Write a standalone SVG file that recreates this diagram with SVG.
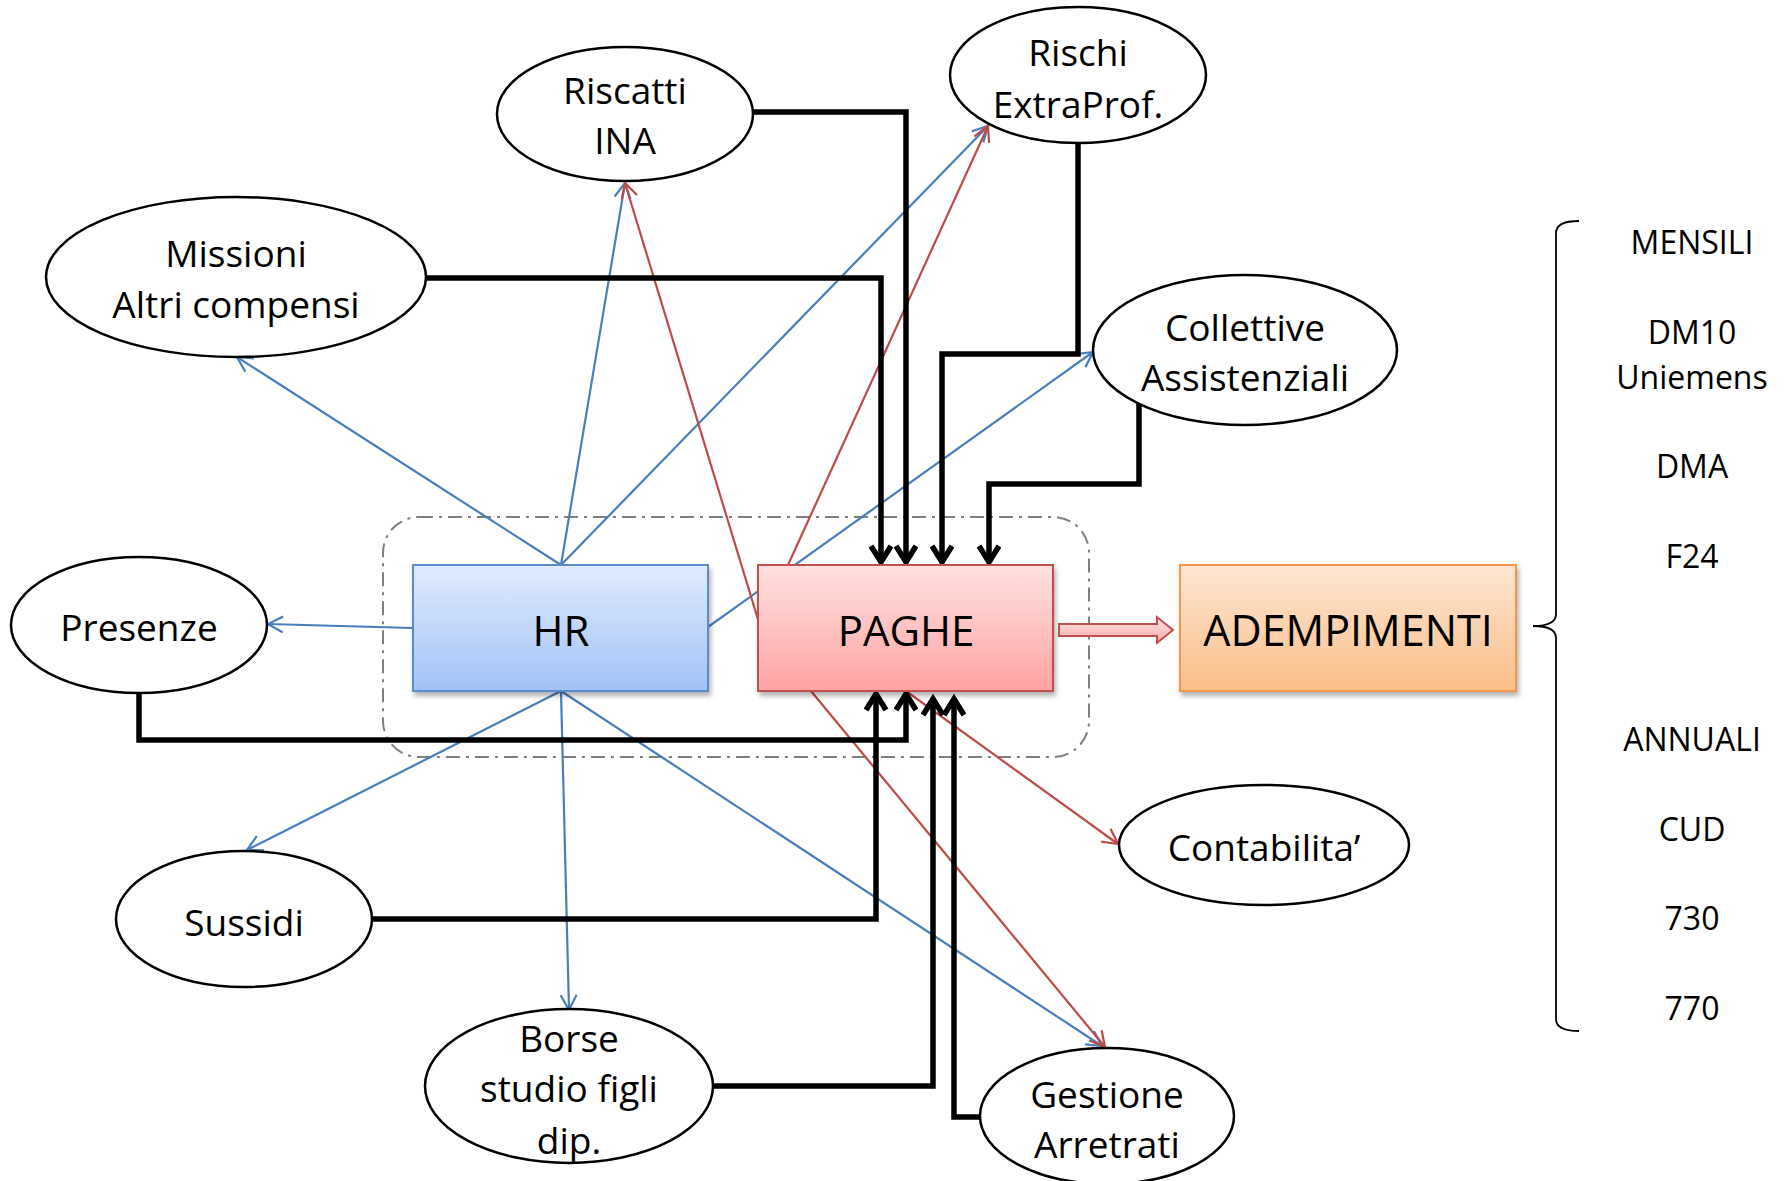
<svg xmlns="http://www.w3.org/2000/svg" width="1791" height="1181" viewBox="0 0 1791 1181">
<style>
.ell{fill:#fff;stroke:#000;stroke-width:2.5}
.t{font-family:"Open Sans","Liberation Sans",sans-serif;font-size:37px;fill:#000;text-anchor:middle;dominant-baseline:central}
.big{font-size:42px}
.adm{font-size:43px}
.side{font-family:"Open Sans","Liberation Sans",sans-serif;font-size:32px;fill:#000;text-anchor:middle;dominant-baseline:central}
.blue{fill:none;stroke:#4a7ebb;stroke-width:2.2;marker-end:url(#ab)}
.red{fill:none;stroke:#be4b48;stroke-width:2.2;marker-end:url(#ar)}
.blk{fill:none;stroke:#000;stroke-width:5.5;stroke-linejoin:miter;marker-end:url(#ak)}
</style>
<defs>
<marker id="ab" markerUnits="userSpaceOnUse" markerWidth="30" markerHeight="30" refX="16" refY="9" orient="auto"><path d="M1,1 L16,9 L1,17" fill="none" stroke="#4a7ebb" stroke-width="2.2"/></marker>
<marker id="ar" markerUnits="userSpaceOnUse" markerWidth="30" markerHeight="30" refX="16" refY="9" orient="auto"><path d="M1,1 L16,9 L1,17" fill="none" stroke="#be4b48" stroke-width="2.2"/></marker>
<marker id="ak" markerUnits="userSpaceOnUse" markerWidth="40" markerHeight="40" refX="20" refY="12" orient="auto"><path d="M3,2 L19,12 L3,22" fill="none" stroke="#000" stroke-width="5.5"/></marker>
<linearGradient id="gb" x1="0" y1="0" x2="0" y2="1"><stop offset="0" stop-color="#e1ebfd"/><stop offset="1" stop-color="#a2c2f7"/></linearGradient>
<linearGradient id="gr" x1="0" y1="0" x2="0" y2="1"><stop offset="0" stop-color="#ffe1e1"/><stop offset="1" stop-color="#ffa3a3"/></linearGradient>
<linearGradient id="go" x1="0" y1="0" x2="0" y2="1"><stop offset="0" stop-color="#fee6d3"/><stop offset="1" stop-color="#fbbf88"/></linearGradient>
<linearGradient id="gp" x1="0" y1="0" x2="0" y2="1"><stop offset="0" stop-color="#ffe6e6"/><stop offset="1" stop-color="#f7a5a5"/></linearGradient>
<filter id="sh" x="-10%" y="-10%" width="130%" height="140%"><feDropShadow dx="2" dy="4" stdDeviation="2.5" flood-color="#000" flood-opacity="0.3"/></filter>
</defs>
<rect width="1791" height="1181" fill="#fff"/>
<rect id="group-frame" x="383" y="517" width="706" height="240" rx="36" fill="none" stroke="#7f7f7f" stroke-width="2" stroke-dasharray="14,6,3,6"/>
<g id="connectors">
<line class="blue" x1="561" y1="565" x2="237" y2="357"/>
<line class="blue" x1="561" y1="565" x2="625" y2="183"/>
<line class="blue" x1="561" y1="565" x2="988" y2="126"/>
<line class="blue" x1="413" y1="628" x2="268" y2="624"/>
<line class="blue" x1="708" y1="627" x2="1093" y2="352"/>
<line class="blue" x1="561" y1="691" x2="247" y2="850"/>
<line class="blue" x1="561" y1="691" x2="569" y2="1010"/>
<line class="blue" x1="561" y1="691" x2="1102" y2="1046"/>
<line class="red" x1="760" y1="626" x2="625" y2="183"/>
<line class="red" x1="788" y1="565" x2="988" y2="126"/>
<line class="red" x1="811" y1="691" x2="1105" y2="1047"/>
<line class="red" x1="906" y1="691" x2="1118" y2="844"/>
<path class="blk" d="M425,278 H881 V563"/>
<path class="blk" d="M753,112 H906 V563"/>
<path class="blk" d="M1078,144 V354 H942 V563"/>
<path class="blk" d="M1139,402 V484 H989 V563"/>
<path class="blk" d="M372,919 H876 V693"/>
<path class="blk" d="M139,693 V740 H906 V693"/>
<path class="blk" d="M713,1086 H933 V698"/>
<path class="blk" d="M980,1117 H954 V698"/>
</g>
<g id="hr"><rect x="413" y="565" width="295" height="126" fill="url(#gb)" stroke="#5b8bd0" stroke-width="2" filter="url(#sh)"/><text class="t big" x="561" y="629">HR</text></g>
<g id="paghe"><rect x="758" y="565" width="295" height="126" fill="url(#gr)" stroke="#c0504d" stroke-width="2" filter="url(#sh)"/><text class="t big" x="906" y="629">PAGHE</text></g>
<g id="adempimenti"><rect x="1180" y="565" width="336" height="126" fill="url(#go)" stroke="#f79646" stroke-width="2" filter="url(#sh)"/><text class="t adm" x="1348" y="629">ADEMPIMENTI</text></g>
<g id="hollow-arrow"><path d="M1059,624 H1157 V617 L1173,630 L1157,643 V636 H1059 Z" fill="url(#gp)" stroke="#c0504d" stroke-width="2"/></g>
<g id="riscatti"><ellipse class="ell" cx="625" cy="114" rx="128" ry="67"/><text class="t" x="625" y="89">Riscatti</text><text class="t" x="625" y="139">INA</text></g>
<g id="rischi"><ellipse class="ell" cx="1078" cy="75" rx="128" ry="68"/><text class="t" x="1078" y="51">Rischi</text><text class="t" x="1078" y="103">ExtraProf.</text></g>
<g id="missioni"><ellipse class="ell" cx="236" cy="277" rx="190" ry="80"/><text class="t" x="236" y="252">Missioni</text><text class="t" x="236" y="303">Altri compensi</text></g>
<g id="collettive"><ellipse class="ell" cx="1245" cy="350" rx="152" ry="75"/><text class="t" x="1245" y="326">Collettive</text><text class="t" x="1245" y="376">Assistenziali</text></g>
<g id="presenze"><ellipse class="ell" cx="139" cy="625" rx="128" ry="68"/><text class="t" x="139" y="626">Presenze</text></g>
<g id="contabilita"><ellipse class="ell" cx="1264" cy="845" rx="145" ry="60"/><text class="t" x="1264" y="846">Contabilita’</text></g>
<g id="sussidi"><ellipse class="ell" cx="244" cy="919" rx="128" ry="68"/><text class="t" x="244" y="921">Sussidi</text></g>
<g id="borse"><ellipse class="ell" cx="569" cy="1086" rx="144" ry="77"/><text class="t" x="569" y="1037">Borse</text><text class="t" x="569" y="1087">studio figli</text><text class="t" x="569" y="1139">dip.</text></g>
<g id="gestione"><ellipse class="ell" cx="1107" cy="1116" rx="127" ry="68"/><text class="t" x="1107" y="1093">Gestione</text><text class="t" x="1107" y="1143">Arretrati</text></g>
<g id="scadenze">
<path d="M1579,221 Q1556,221 1556,233 V614 Q1556,626 1533,626 Q1556,626 1556,638 V1019 Q1556,1031 1579,1031" fill="none" stroke="#000" stroke-width="1.8"/>
<text class="side" x="1692" y="241">MENSILI</text>
<text class="side" x="1692" y="331">DM10</text>
<text class="side" x="1692" y="376">Uniemens</text>
<text class="side" x="1692" y="465">DMA</text>
<text class="side" x="1692" y="555">F24</text>
<text class="side" x="1692" y="738">ANNUALI</text>
<text class="side" x="1692" y="828">CUD</text>
<text class="side" x="1692" y="917">730</text>
<text class="side" x="1692" y="1007">770</text>
</g>
</svg>
